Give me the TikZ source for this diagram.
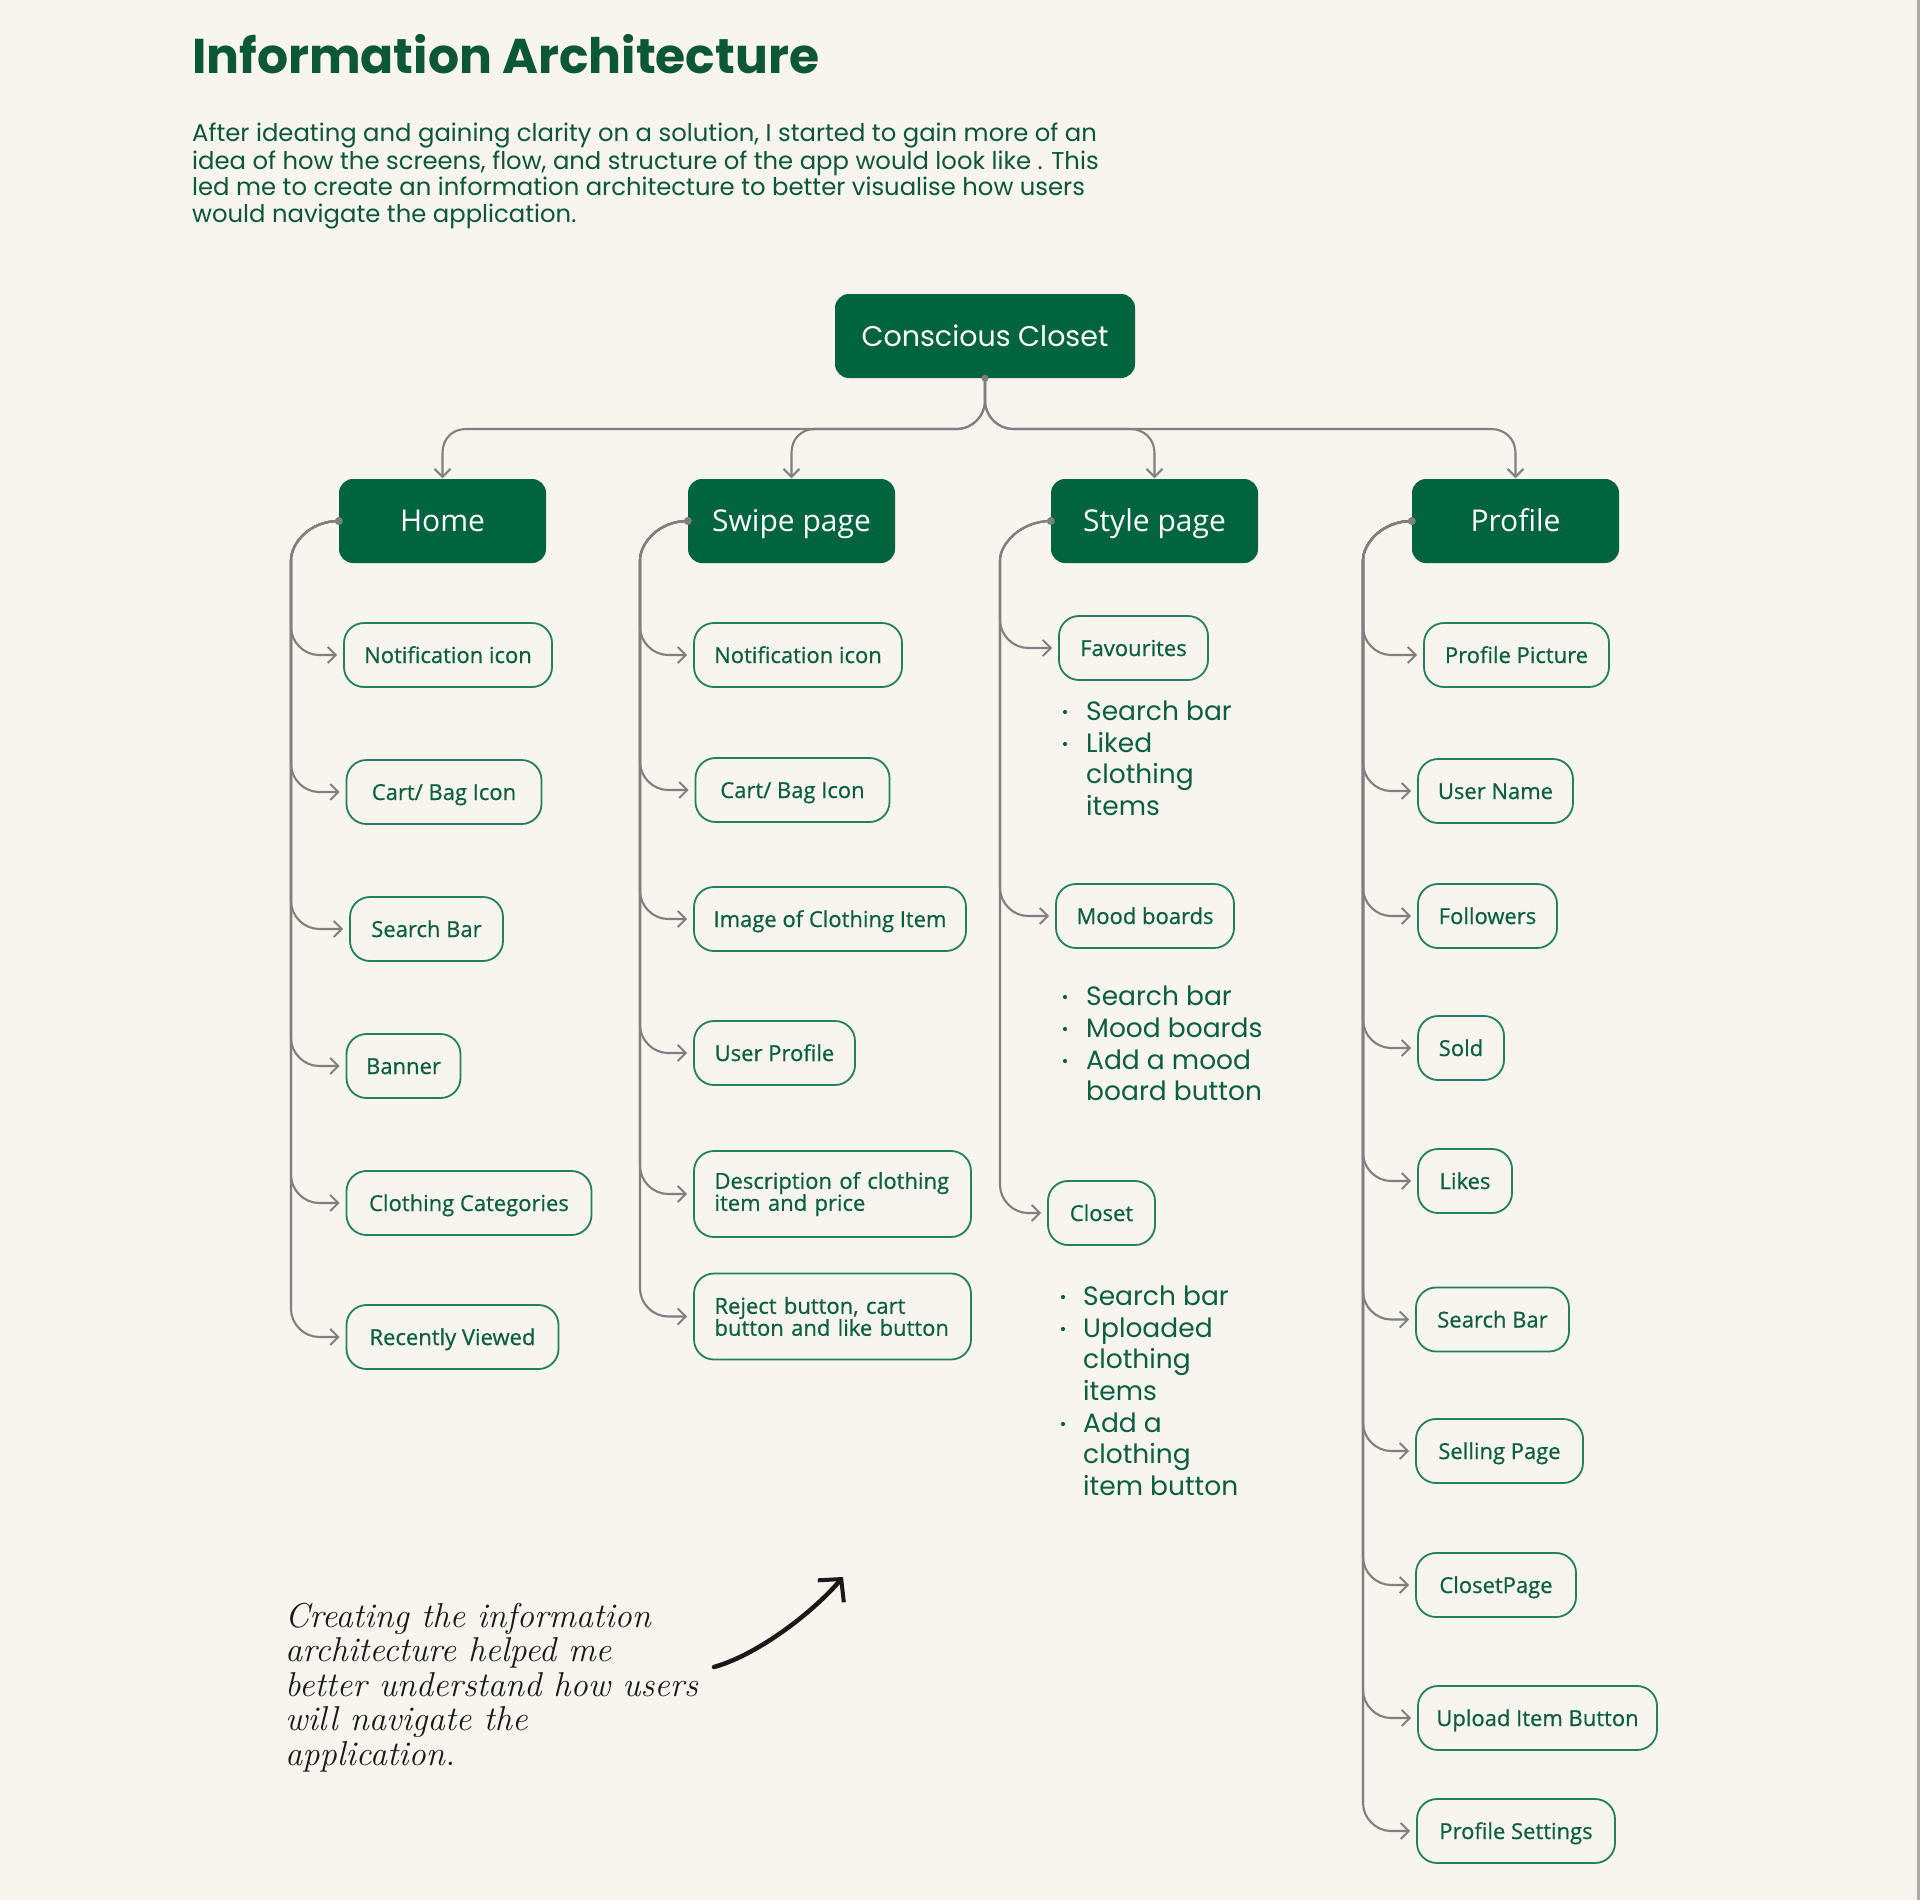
\documentclass[tikz,border=0pt]{standalone}
\usepackage{fontspec}
\newfontfamily\osans{Open Sans}
\newfontfamily\osansm{Open Sans}[FakeBold=0.6]
\newfontfamily\pop{Poppins}
\usetikzlibrary{arrows.meta,calc}
\definecolor{bg}{HTML}{F8F4EE}
\definecolor{dkg}{HTML}{00643F}
\definecolor{ttl}{HTML}{0B5736}
\definecolor{txg}{HTML}{0A5F40}
\definecolor{bdr}{HTML}{228060}
\definecolor{lng}{HTML}{808080}
\newcommand\mybranch[4]{\draw[conn] (#2.west) .. controls +(-30,0) and +(0,-16) .. (#1,560) -- (#1,#4-28) .. controls +(0,15) and +(-15,0) .. (#1+28,#4) -- (#3.west);}
\newcommand\mybullet[2]{\fill[txg] (#1,#2-8) circle (2.1pt);}
\begin{document}
\begin{tikzpicture}[x=1pt,y=-1pt,
 conn/.style={draw=lng,line width=2.1pt,-{Straight Barb[length=8pt,width=16pt,line width=2pt]},shorten >=6pt},
 topn/.style={fill=dkg,rounded corners=14pt,minimum width=207pt,minimum height=84pt,text=white,font=\osans\fontsize{30}{34}\selectfont,inner sep=0pt,text height=21pt,text depth=0pt},
 leaf/.style={draw=bdr,line width=1.8pt,rounded corners=20pt,minimum height=64pt,inner sep=0pt,text=txg,font=\osansm\fontsize{22}{22}\selectfont},
 one/.style={text height=16pt,text depth=0pt},
 bl/.style={anchor=base west,inner sep=0pt,text=txg,font=\pop\fontsize{26.5}{30}\selectfont},
 para/.style={anchor=base west,inner sep=0pt,text=ttl,font=\pop\fontsize{24.3}{27}\selectfont},
 hand/.style={anchor=base west,inner sep=0pt,text=black!90,font=\rmfamily\itshape\fontsize{34.5}{34}\selectfont}
]
\useasboundingbox (0,0) rectangle (1920,1900);
\fill[bg] (0,0) rectangle (1920,1900);
\fill[black!33] (1917,0) rectangle (1920,1900);

% title and intro
\node[anchor=base west,inner sep=0pt,text=ttl,font=\pop\bfseries\fontsize{48.8}{56}\selectfont] (title) at (192,74) {Information Architecture};
\node[para] (p1) at (192,142) {After ideating and gaining clarity on a solution, I started to gain more of an};
\node[para] (p2) at (192,169) {idea of how the screens, flow, and structure of the app would look like . This};
\node[para] (p3) at (192,195) {led me to create an information architecture to better visualise how users};
\node[para] (p4) at (192,222) {would navigate the application.};

% root and level 1
\node[topn,minimum width=300pt,font=\pop\fontsize{28.5}{30}\selectfont,text height=20pt] (root) at (985,336) {Conscious Closet};
\node[topn] (home) at (442.5,521) {Home};
\node[topn] (swipe) at (791.5,521) {Swipe page};
\node[topn] (style) at (1154.5,521) {Style page};
\node[topn] (profile) at (1515.5,521) {Profile};

\draw[conn,shorten >=0.5pt] (root.south) -- (985,401) .. controls (985,416) and (972,429) .. (957,429) -- (466,429) .. controls (452,429) and (442.5,439) .. (442.5,453) -- (home.north);
\draw[conn,shorten >=0.5pt] (root.south) -- (985,401) .. controls (985,416) and (972,429) .. (957,429) -- (815,429) .. controls (801,429) and (791.5,439) .. (791.5,453) -- (swipe.north);
\draw[conn,shorten >=0.5pt] (root.south) -- (985,401) .. controls (985,416) and (998,429) .. (1013,429) -- (1130,429) .. controls (1144,429) and (1154.5,439) .. (1154.5,453) -- (style.north);
\draw[conn,shorten >=0.5pt] (root.south) -- (985,401) .. controls (985,416) and (998,429) .. (1013,429) -- (1491,429) .. controls (1505,429) and (1515.5,439) .. (1515.5,453) -- (profile.north);
\fill[lng] (root.south) circle (3.5pt);

% Home column
\node[leaf,one,minimum width=208pt] (hn) at (448,655) {Notification icon};
\node[leaf,one,minimum width=195pt] (hc) at (444,792) {Cart/ Bag Icon};
\node[leaf,one,minimum width=153pt] (hs) at (426.5,929) {Search Bar};
\node[leaf,one,minimum width=114pt] (hb) at (403.5,1066) {Banner};
\node[leaf,one,minimum width=245pt] (hcc) at (469,1203) {Clothing Categories};
\node[leaf,one,minimum width=212pt] (hr) at (452.5,1337) {Recently Viewed};
\mybranch{291}{home}{hn}{655}
\mybranch{291}{home}{hc}{792}
\mybranch{291}{home}{hs}{929}
\mybranch{291}{home}{hb}{1066}
\mybranch{291}{home}{hcc}{1203}
\mybranch{291}{home}{hr}{1337}
\fill[lng] (home.west) circle (4pt);

% Swipe column
\node[leaf,one,minimum width=208pt] (sn) at (798,655) {Notification icon};
\node[leaf,one,minimum width=194pt] (sc) at (792.5,790) {Cart/ Bag Icon};
\node[leaf,one,minimum width=272pt] (si) at (830,919) {Image of Clothing Item};
\node[leaf,one,minimum width=161pt] (su) at (774.5,1053) {User Profile};
\node[leaf,minimum height=86pt,text width=236pt,inner xsep=20.5pt,align=left] (sd) at (832.5,1194) {Description of clothing\\item and price};
\node[leaf,minimum height=86pt,text width=236pt,inner xsep=20.5pt,align=left] (sr) at (832.5,1316.5) {Reject button, cart\\button and like button};
\mybranch{640}{swipe}{sn}{655}
\mybranch{640}{swipe}{sc}{790}
\mybranch{640}{swipe}{si}{919}
\mybranch{640}{swipe}{su}{1053}
\mybranch{640}{swipe}{sd}{1194}
\mybranch{640}{swipe}{sr}{1316.5}
\fill[lng] (swipe.west) circle (4pt);

% Style column
\node[leaf,one,minimum width=149pt] (sf) at (1133.5,648) {Favourites};
\node[leaf,one,minimum width=178pt] (sm) at (1145,916) {Mood boards};
\node[leaf,one,minimum width=107pt] (scl) at (1101.5,1213) {Closet};
\mybranch{1000}{style}{sf}{648}
\mybranch{1000}{style}{sm}{916}
\mybranch{1000}{style}{scl}{1213}
\fill[lng] (style.west) circle (4pt);

\mybullet{1065}{720}\mybullet{1065}{752}
\node[bl] (f1) at (1086,720) {Search bar};
\node[bl] (f2) at (1086,752) {Liked};
\node[bl] (f3) at (1086,783) {clothing};
\node[bl] (f4) at (1086,815) {items};

\mybullet{1065}{1005}\mybullet{1065}{1037}\mybullet{1065}{1069}
\node[bl] (m1) at (1086,1005) {Search bar};
\node[bl] (m2) at (1086,1037) {Mood boards};
\node[bl] (m3) at (1086,1069) {Add a mood};
\node[bl] (m4) at (1086,1100) {board button};

\mybullet{1063}{1305}\mybullet{1063}{1337}\mybullet{1063}{1432}
\node[bl] (c1) at (1083,1305) {Search bar};
\node[bl] (c2) at (1083,1337) {Uploaded};
\node[bl] (c3) at (1083,1368) {clothing};
\node[bl] (c4) at (1083,1400) {items};
\node[bl] (c5) at (1083,1432) {Add a};
\node[bl] (c6) at (1083,1463) {clothing};
\node[bl] (c7) at (1083,1495) {item button};

% Profile column
\node[leaf,one,minimum width=185pt] (pp) at (1516.5,655) {Profile Picture};
\node[leaf,one,minimum width=155pt] (pu) at (1495.5,791) {User Name};
\node[leaf,one,minimum width=139pt] (pf) at (1487.5,916) {Followers};
\node[leaf,one,minimum width=86pt] (ps) at (1461,1048) {Sold};
\node[leaf,one,minimum width=94pt] (pl) at (1465,1181) {Likes};
\node[leaf,one,minimum width=153pt] (pb) at (1492.5,1319.5) {Search Bar};
\node[leaf,one,minimum width=167pt] (psp) at (1499.5,1451) {Selling Page};
\node[leaf,one,minimum width=160pt] (pc) at (1496,1585) {ClosetPage};
\node[leaf,one,minimum width=239pt] (pub) at (1537.5,1718) {Upload Item Button};
\node[leaf,one,minimum width=198pt] (pst) at (1516,1831) {Profile Settings};
\mybranch{1363}{profile}{pp}{655}
\mybranch{1363}{profile}{pu}{791}
\mybranch{1363}{profile}{pf}{916}
\mybranch{1363}{profile}{ps}{1048}
\mybranch{1363}{profile}{pl}{1181}
\mybranch{1363}{profile}{pb}{1319.5}
\mybranch{1363}{profile}{psp}{1451}
\mybranch{1363}{profile}{pc}{1585}
\mybranch{1363}{profile}{pub}{1718}
\mybranch{1363}{profile}{pst}{1831}
\fill[lng] (profile.west) circle (4pt);

% handwritten note
\node[hand] (n1) at (285,1627) {Creating the information};
\node[hand] (n2) at (285,1661.5) {architecture helped me};
\node[hand] (n3) at (285,1696) {better understand how users};
\node[hand] (n4) at (285,1730.5) {will navigate the};
\node[hand] (n5) at (285,1765) {application.};
\coordinate (ha) at (714,1667);
\coordinate (hb2) at (843,1577);
\draw[black!90,line width=4.5pt,line cap=round,-{Straight Barb[length=16pt,width=34pt,line width=4pt]}] (ha) .. controls (760,1654) and (815,1610) .. (hb2);
\end{tikzpicture}
\end{document}
